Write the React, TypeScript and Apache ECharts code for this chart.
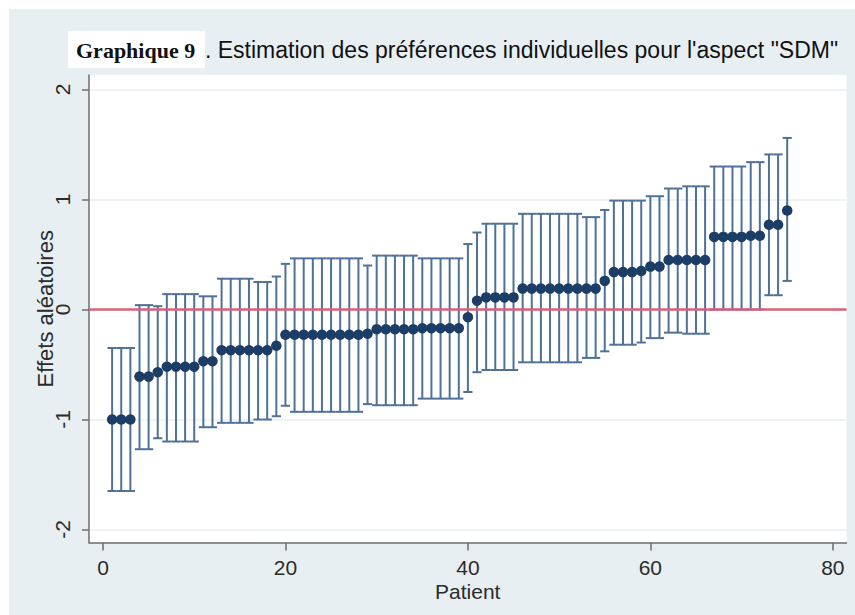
import React, { useEffect, useRef } from "react";
import * as echarts from "echarts";

const patients = [
  1, 2, 3, 4, 5, 6, 7, 8, 9, 10, 11, 12, 13, 14, 15, 16, 17, 18, 19, 20,
  21, 22, 23, 24, 25, 26, 27, 28, 29, 30, 31, 32, 33, 34, 35, 36, 37, 38, 39, 40,
  41, 42, 43, 44, 45, 46, 47, 48, 49, 50, 51, 52, 53, 54, 55, 56, 57, 58, 59, 60,
  61, 62, 63, 64, 65, 66, 67, 68, 69, 70, 71, 72, 73, 74, 75,
];

const estimates = [
  -1.0, -1.0, -1.0, -0.61, -0.61, -0.57, -0.52, -0.52, -0.52, -0.52,
  -0.47, -0.47, -0.37, -0.37, -0.37, -0.37, -0.37, -0.37, -0.33, -0.23,
  -0.23, -0.23, -0.23, -0.23, -0.23, -0.23, -0.23, -0.23, -0.22, -0.18,
  -0.18, -0.18, -0.18, -0.18, -0.17, -0.17, -0.17, -0.17, -0.17, -0.07,
  0.08, 0.11, 0.11, 0.11, 0.11, 0.19, 0.19, 0.19, 0.19, 0.19,
  0.19, 0.19, 0.19, 0.19, 0.26, 0.34, 0.34, 0.34, 0.35, 0.39,
  0.39, 0.45, 0.45, 0.45, 0.45, 0.45, 0.66, 0.66, 0.66, 0.66,
  0.67, 0.67, 0.77, 0.77, 0.9,
];

const lowerCI = [
  -1.65, -1.65, -1.65, -1.27, -1.27, -1.17, -1.2, -1.2, -1.2, -1.2,
  -1.07, -1.07, -1.03, -1.03, -1.03, -1.03, -1.0, -1.0, -0.97, -0.875,
  -0.93, -0.93, -0.93, -0.93, -0.93, -0.93, -0.93, -0.93, -0.86, -0.87,
  -0.87, -0.87, -0.87, -0.87, -0.81, -0.81, -0.81, -0.81, -0.81, -0.75,
  -0.57, -0.55, -0.55, -0.55, -0.55, -0.48, -0.48, -0.48, -0.48, -0.48,
  -0.48, -0.48, -0.44, -0.44, -0.38, -0.32, -0.32, -0.32, -0.3, -0.26,
  -0.26, -0.21, -0.21, -0.22, -0.22, -0.22, 0.0, 0.0, 0.0, 0.0,
  0.0, 0.0, 0.13, 0.13, 0.26,
];

const upperCI = [
  -0.35, -0.35, -0.35, 0.04, 0.04, 0.03, 0.14, 0.14, 0.14, 0.14,
  0.12, 0.12, 0.28, 0.28, 0.28, 0.28, 0.25, 0.25, 0.3, 0.415,
  0.465, 0.465, 0.465, 0.465, 0.465, 0.465, 0.465, 0.465, 0.4, 0.49,
  0.49, 0.49, 0.49, 0.49, 0.465, 0.465, 0.465, 0.465, 0.465, 0.595,
  0.7, 0.78, 0.78, 0.78, 0.78, 0.87, 0.87, 0.87, 0.87, 0.87,
  0.87, 0.87, 0.84, 0.84, 0.905, 0.99, 0.99, 0.99, 0.99, 1.03,
  1.03, 1.1, 1.1, 1.12, 1.12, 1.12, 1.3, 1.3, 1.3, 1.3,
  1.34, 1.34, 1.41, 1.41, 1.56,
];

const xTicks = [0, 20, 40, 60, 80];
const yTicks = [-2, -1, 0, 1, 2];

const titleBold = "Graphique 9";
const titleRest = '. Estimation des préférences individuelles pour l\'aspect "SDM"';
const xName = "Patient";
const yName = "Effets aléatoires";

const BAR_COLOR = "#4f7198";
const DOT_COLOR = "#1b3d66";
const RED = "#d9627b";
const AXIS = "#6e6e6e";
const TEXT = "#2b2b2b";
const FONT = "'Liberation Sans', Arial, sans-serif";

export default function App() {
  const ref = useRef<HTMLDivElement>(null);

  useEffect(() => {
    if (!ref.current) return;
    const chart = echarts.init(ref.current, null, { renderer: "svg" });

    const ciData = patients.map((p, i) => [p, lowerCI[i], upperCI[i]]);
    const ptData = patients.map((p, i) => [p, estimates[i]]);

    chart.setOption({
      animation: false,
      backgroundColor: "transparent",
      textStyle: { fontFamily: FONT },
      grid: {
        left: 89,
        right: 8.5,
        top: 75,
        bottom: 72.5,
        show: true,
        backgroundColor: "#ffffff",
        borderWidth: 0,
        containLabel: false,
      },
      graphic: [
        {
          type: "rect",
          shape: { x: 68, y: 31, width: 137, height: 37 },
          style: { fill: "#ffffff" },
          silent: true,
        },
        {
          type: "text",
          x: 76,
          y: 50,
          style: {
            text: titleBold,
            font: "bold 22px 'Liberation Serif', 'Times New Roman', serif",
            fill: "#111111",
            verticalAlign: "middle",
          },
          silent: true,
        },
        {
          type: "text",
          x: 205,
          y: 50,
          style: {
            text: titleRest,
            font: "23px " + FONT,
            fill: "#111111",
            verticalAlign: "middle",
          },
          silent: true,
        },
      ],
      xAxis: {
        type: "value",
        min: -1.534,
        max: 81.5,
        name: xName,
        nameLocation: "middle",
        nameGap: 38,
        nameMoveOverlap: false,
        nameTextStyle: { fontSize: 21, color: TEXT, fontFamily: FONT },
        axisLine: { show: true, onZero: false, lineStyle: { color: AXIS, width: 1.5 } },
        axisTick: { show: true, length: 8, customValues: xTicks, lineStyle: { color: AXIS, width: 1.5 } },
        axisLabel: { customValues: xTicks, fontSize: 21, color: TEXT, margin: 14, fontFamily: FONT },
        splitLine: { show: false },
      },
      yAxis: {
        type: "value",
        min: -2.118,
        max: 2.132,
        name: yName,
        nameLocation: "middle",
        nameGap: 33,
        nameRotate: 90,
        nameMoveOverlap: false,
        nameTextStyle: { fontSize: 22, color: TEXT, fontFamily: FONT },
        axisLine: { show: true, onZero: false, lineStyle: { color: AXIS, width: 1.5 } },
        axisTick: { show: true, length: 7, customValues: yTicks, lineStyle: { color: AXIS, width: 1.5 } },
        axisLabel: { customValues: yTicks, fontSize: 21, color: TEXT, margin: 16, rotate: 90, fontFamily: FONT },
        splitLine: { show: true, lineStyle: { color: "#e9f0f2", width: 1.5 } },
      },
      series: [
        {
          type: "custom",
          z: 2,
          data: ciData,
          encode: { x: 0, y: [1, 2] },
          renderItem: (params: any, api: any) => {
            const x = api.value(0);
            const lo = api.value(1);
            const hi = api.value(2);
            const top = api.coord([x, hi]);
            const bot = api.coord([x, lo]);
            const hw = 4.6;
            const style = { stroke: BAR_COLOR, lineWidth: 2 };
            return {
              type: "group",
              children: [
                { type: "line", shape: { x1: top[0], y1: top[1], x2: bot[0], y2: bot[1] }, style },
                { type: "line", shape: { x1: top[0] - hw, y1: top[1], x2: top[0] + hw, y2: top[1] }, style },
                { type: "line", shape: { x1: bot[0] - hw, y1: bot[1], x2: bot[0] + hw, y2: bot[1] }, style },
              ],
            };
          },
          markLine: {
            silent: true,
            symbol: "none",
            label: { show: false },
            lineStyle: { color: RED, width: 2.5, type: "solid" },
            data: [{ yAxis: 0 }],
          },
        },
        {
          type: "scatter",
          z: 3,
          data: ptData,
          symbol: "circle",
          symbolSize: 10.5,
          itemStyle: { color: DOT_COLOR, opacity: 1 },
        },
      ],
    });

    return () => chart.dispose();
  }, []);

  return (
    <div style={{ position: "absolute", left: 0, top: 0, width: 855, height: 615, background: "#ffffff" }}>
      <div style={{ position: "absolute", left: 9, top: 9, width: 846, height: 606, background: "#e8eff2" }} />
      <div ref={ref} style={{ position: "absolute", left: 0, top: 0, width: 855, height: 615 }} />
    </div>
  );
}
